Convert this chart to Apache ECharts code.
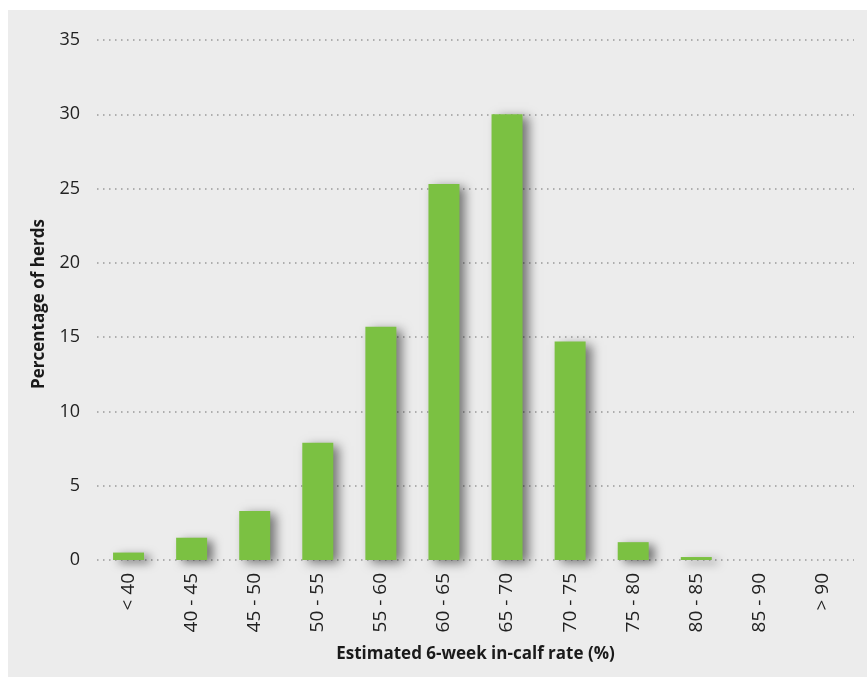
<!DOCTYPE html>
<html>
<head>
<meta charset="utf-8">
<script src="https://cdn.jsdelivr.net/npm/echarts@6/dist/echarts.min.js"></script>
<style>
  html, body { margin: 0; padding: 0; background: #fff; }
  #chart {
    position: absolute;
    left: 8px;
    top: 10px;
    width: 859px;
    height: 667px;
    background: #ececec;
  }
</style>
</head>
<body>
<div id="chart"></div>
<script>
// categories (estimated 6-week in-calf rate bands)
const rateBands = ['< 40', '40 - 45', '45 - 50', '50 - 55', '55 - 60', '60 - 65',
  '65 - 70', '70 - 75', '75 - 80', '80 - 85', '85 - 90', '> 90']
// percentage of herds in each band
const herdPercent = [0.5, 1.5, 3.3, 7.9, 15.7, 25.3, 30.0, 14.7, 1.2, 0.2, 0, 0]
const yTicks = { min: 0, max: 35, interval: 5 }

const chart = echarts.init(document.getElementById('chart'))

const option = {
  backgroundColor: 'transparent',
  animation: false,
  grid: {
    left: 89,
    right: 13,
    top: 30,
    bottom: 117,
  },
  graphic: [
    {
      type: 'text',
      x: 31,
      y: 294,
      rotation: Math.PI / 2,
      style: {
        text: 'Percentage of herds',
        align: 'center',
        verticalAlign: 'middle',
        fontFamily: 'Open Sans',
        fontWeight: 'bold',
        fontSize: 17,
        fill: '#1a1a1a',
      },
    },
  ],
  xAxis: {
    type: 'category',
    data: rateBands,
    name: 'Estimated 6-week in-calf rate (%)',
    nameLocation: 'middle',
    nameGap: 86,
    nameTextStyle: {
      fontFamily: 'Open Sans',
      fontWeight: 'bold',
      fontSize: 17,
      color: '#1a1a1a',
    },
    axisLine: { show: false },
    axisTick: { show: false },
    axisLabel: {
      rotate: 90,
      margin: 13,
      interval: 0,
      fontFamily: 'Open Sans',
      fontSize: 19,
      color: '#222',
    },
  },
  yAxis: {
    type: 'value',
    min: yTicks.min,
    max: yTicks.max,
    interval: yTicks.interval,
    axisLine: { show: false },
    axisTick: { show: false },
    axisLabel: {
      margin: 17,
      fontFamily: 'Open Sans',
      fontSize: 18,
      color: '#222',
    },
    splitLine: {
      show: true,
      lineStyle: {
        color: '#999',
        width: 1.5,
        type: [1.5, 4.5],
      },
    },
  },
  series: [
    {
      type: 'bar',
      data: herdPercent,
      barWidth: 31,
      itemStyle: {
        color: '#7bc142',
        shadowColor: 'rgba(0, 0, 0, 0.5)',
        shadowBlur: 10,
        shadowOffsetX: 6,
        shadowOffsetY: 3,
      },
    },
  ],
}

chart.setOption(option)
</script>
</body>
</html>
